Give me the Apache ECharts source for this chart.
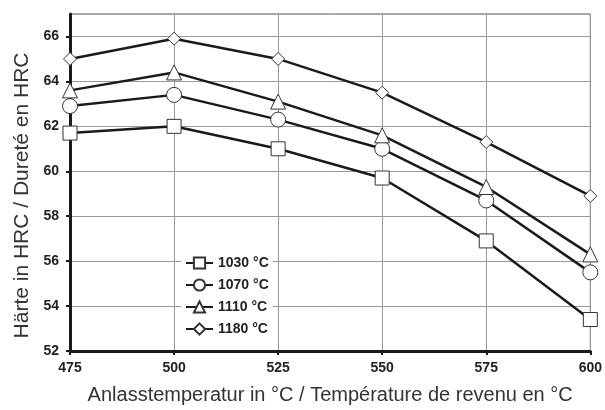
<!DOCTYPE html>
<html>
<head>
<meta charset="utf-8">
<script src="https://cdn.jsdelivr.net/npm/echarts@6/dist/echarts.min.js"></script>
<style>
  html, body { margin: 0; padding: 0; background: #fff; }
  #chart { width: 605px; height: 410px; }
</style>
</head>
<body>
<div id="chart"></div>
<script>
var temps = [475, 500, 525, 550, 575, 600];
var h1030 = [61.7, 62.0, 61.0, 59.7, 56.9, 53.4];
var h1070 = [62.9, 63.4, 62.3, 61.0, 58.7, 55.5];
var h1110 = [63.6, 64.4, 63.1, 61.6, 59.3, 56.3];
var h1180 = [65.0, 65.9, 65.0, 63.5, 61.3, 58.9];
var names = ['1030 °C', '1070 °C', '1110 °C', '1180 °C'];
var yTicks = [52, 54, 56, 58, 60, 62, 64, 66];

function pairs(vals) {
    return temps.map(function (t, i) { return [t, vals[i]]; });
}

function serie(name, vals, symbol, size) {
    return {
        name: name,
        type: 'line',
        data: pairs(vals),
        symbol: symbol,
        symbolSize: size,
        lineStyle: { color: '#1a1a1a', width: 2.5 },
        itemStyle: { color: '#fff', borderColor: '#333', borderWidth: 1 },
        z: 3
    };
}

var font = 'Liberation Sans, Arial, sans-serif';
var myChart = echarts.init(document.getElementById('chart'));
var options = {
    animation: false,
    backgroundColor: '#fff',
    grid: { left: 70, right: 14, top: 14, bottom: 56, show: true, borderColor: '#555', borderWidth: 1 },
    //legende
    legend: {
        data: names,
        orient: 'vertical',
        left: 181,
        top: 254,
        itemGap: 8,
        itemWidth: 27,
        itemHeight: 14,
        backgroundColor: '#fff',
        padding: [2, 4, 2, 4],
        textStyle: { fontFamily: font, fontWeight: 'bold', fontSize: 14, color: '#222' }
    },
    xAxis: {
        type: 'value',
        min: 475,
        max: 600,
        interval: 25,
        name: 'Anlasstemperatur in °C / Température de revenu en °C',
        nameLocation: 'middle',
        nameGap: 34,
        nameTextStyle: { fontFamily: font, fontSize: 20, color: '#333' },
        axisLine: { lineStyle: { color: '#1a1a1a', width: 3 } },
        axisTick: { show: true, length: 4, lineStyle: { color: '#1a1a1a', width: 2 } },
        axisLabel: { fontFamily: font, fontWeight: 'bold', fontSize: 14, color: '#222', margin: 10 },
        splitLine: { show: true, lineStyle: { color: '#999', width: 1 } }
    },
    yAxis: {
        type: 'value',
        min: 52,
        max: 67,
        interval: 1,
        name: 'Härte in HRC / Dureté en HRC',
        nameLocation: 'middle',
        nameGap: 37,
        nameTextStyle: { fontFamily: font, fontSize: 21, color: '#333', padding: [0, 26, 0, 0] },
        axisLine: { show: true, lineStyle: { color: '#1a1a1a', width: 3 } },
        axisTick: { show: true, length: 4, customValues: yTicks, lineStyle: { color: '#1a1a1a', width: 2 } },
        axisLabel: { fontFamily: font, fontWeight: 'bold', fontSize: 14, color: '#222', margin: 11, customValues: yTicks },
        splitLine: { show: true, lineStyle: { color: '#999', width: 1 } }
    },
    series: [
        serie(names[0], h1030, 'rect', 14),
        serie(names[1], h1070, 'circle', 15),
        serie(names[2], h1110, 'triangle', 15),
        serie(names[3], h1180, 'diamond', 13)
    ]
};
myChart.setOption(options);
</script>
</body>
</html>
